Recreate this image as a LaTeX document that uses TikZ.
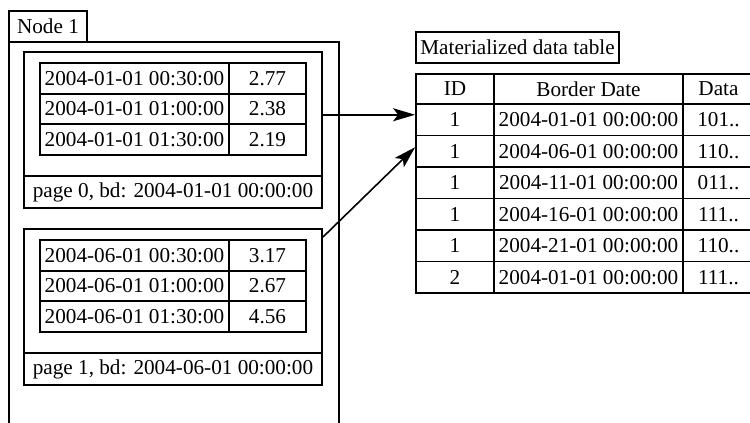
\documentclass[tikz,border=0pt]{standalone}
\usepackage{fontspec}
\setmainfont{Liberation Serif}
\usetikzlibrary{arrows.meta,calc,positioning}
\tikzset{
  cell/.style={draw,rectangle,inner sep=0pt,minimum height=15.33pt},
  datecell/.style={cell,minimum width=94.5pt},
  valcell/.style={cell,minimum width=38.5pt},
  rowcell/.style={cell,minimum height=15.75pt},
  pagebox/.style={draw,rectangle,minimum width=149pt,minimum height=78pt},
  footbox/.style={cell,minimum width=149pt,minimum height=16pt},
  tabbox/.style={draw,rectangle,inner sep=0pt,minimum height=15.5pt}
}

\begin{document}
\begin{tikzpicture}[x=0.5pt,y=-0.5pt,>={Stealth[length=11pt,width=6.5pt,inset=2.5pt]},
  line width=0.9pt,font=\fontsize{10.6}{12.7}\selectfont]
  \useasboundingbox (0,0) rectangle (750,423);

  % node 1 with its two pages
  \node[draw,rectangle,minimum width=165pt,minimum height=194pt] (outer) at (174,236) {};
  \node[tabbox,minimum width=39pt] (tab) at (48,26.5) {Node 1};

  \node[pagebox] (pg0) at (173,130) {};
  \node[datecell] (a1d) at (134.5,78.33) {2004-01-01 00:30:00};
  \node[valcell]  (a1v) at (267.5,78.33) {2.77};
  \node[datecell] (a2d) at (134.5,109) {2004-01-01 01:00:00};
  \node[valcell]  (a2v) at (267.5,109) {2.38};
  \node[datecell] (a3d) at (134.5,139.67) {2004-01-01 01:30:00};
  \node[valcell]  (a3v) at (267.5,139.67) {2.19};
  \node[footbox]  (foot0) at (173,192) {page 0, bd: 2004-01-01 00:00:00};

  \node[pagebox] (pg1) at (173,307) {};
  \node[datecell] (b1d) at (134.5,255.33) {2004-06-01 00:30:00};
  \node[valcell]  (b1v) at (267.5,255.33) {3.17};
  \node[datecell] (b2d) at (134.5,286) {2004-06-01 01:00:00};
  \node[valcell]  (b2v) at (267.5,286) {2.67};
  \node[datecell] (b3d) at (134.5,316.67) {2004-06-01 01:30:00};
  \node[valcell]  (b3v) at (267.5,316.67) {4.56};
  \node[footbox]  (foot1) at (173,369) {page 1, bd: 2004-06-01 00:00:00};

  % materialized data table
  \node[tabbox,minimum width=101.5pt] (title) at (517.5,47.5) {Materialized data table};
  \node[cell,minimum width=39pt,minimum height=15pt]   (m0i) at (455,89) {ID};
  \node[cell,minimum width=94.5pt,minimum height=15pt] (m0b) at (588.5,89) {Border Date};
  \node[cell,minimum width=35.5pt,minimum height=15pt] (m0d) at (718.5,89) {Data};

  \node[rowcell,minimum width=39pt] (m1i) at (455,119.75) {1};
  \node[rowcell,minimum width=94.5pt] (m1b) at (588.5,119.75) {2004-01-01 00:00:00};
  \node[rowcell,minimum width=35.5pt] (m1d) at (718.5,119.75) {101..};
  \node[rowcell,minimum width=39pt] (m2i) at (455,151.25) {1};
  \node[rowcell,minimum width=94.5pt] (m2b) at (588.5,151.25) {2004-06-01 00:00:00};
  \node[rowcell,minimum width=35.5pt] (m2d) at (718.5,151.25) {110..};
  \node[rowcell,minimum width=39pt] (m3i) at (455,182.75) {1};
  \node[rowcell,minimum width=94.5pt] (m3b) at (588.5,182.75) {2004-11-01 00:00:00};
  \node[rowcell,minimum width=35.5pt] (m3d) at (718.5,182.75) {011..};
  \node[rowcell,minimum width=39pt] (m4i) at (455,214.25) {1};
  \node[rowcell,minimum width=94.5pt] (m4b) at (588.5,214.25) {2004-16-01 00:00:00};
  \node[rowcell,minimum width=35.5pt] (m4d) at (718.5,214.25) {111..};
  \node[rowcell,minimum width=39pt] (m5i) at (455,245.75) {1};
  \node[rowcell,minimum width=94.5pt] (m5b) at (588.5,245.75) {2004-21-01 00:00:00};
  \node[rowcell,minimum width=35.5pt] (m5d) at (718.5,245.75) {110..};
  \node[rowcell,minimum width=39pt] (m6i) at (455,277.25) {2};
  \node[rowcell,minimum width=94.5pt] (m6b) at (588.5,277.25) {2004-01-01 00:00:00};
  \node[rowcell,minimum width=35.5pt] (m6d) at (718.5,277.25) {111..};

  % pages point at their rows
  \draw[->,thick] ($(m1i.west -| pg0.east)+(0,-5)$) -- ($(m1i.west)+(0,-5)$);
  \draw[->,thick] ($(pg1.north east)+(0,9)$) -- ($(m2i.west)+(0,-4)$);
\end{tikzpicture}
\end{document}
